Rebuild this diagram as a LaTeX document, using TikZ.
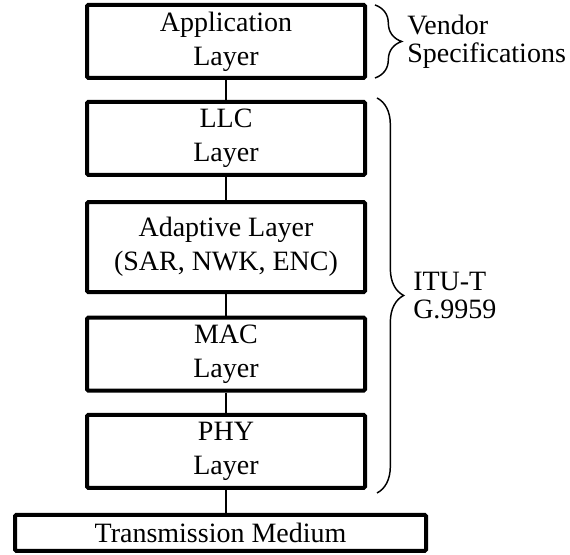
\documentclass[tikz,border=0pt]{standalone}
\usepackage{fontspec}
\setmainfont{Liberation Serif}
\usetikzlibrary{shapes,calc,decorations.pathreplacing}

\begin{document}
\begin{tikzpicture}[node distance = 72.75pt, auto]
	% % % % % % % % % % % % % % % % % % % % % % % % % % % % % %
	% Define styles
	\tikzstyle{block} = [rectangle, draw, line width=3pt, minimum width=208.5pt, minimum height=54.75pt,
						 align=center, rounded corners=1pt, font=\fontsize{21pt}{25.5pt}\selectfont]
	\tikzstyle{line} = [draw, line width=1.5pt]
	\tikzstyle{curly} = [draw, line width=1.1pt, decorate, decoration={brace, amplitude=20pt}]
	\tikzstyle{note} = [inner sep=0pt, anchor=west, align=left, font=\fontsize{21pt}{21pt}\selectfont]

	\useasboundingbox (0,0) rectangle (427.5pt,-415.5pt);

	% % % % % % % % % % % % % % % % % % % % % % % % % % % % % %
	% Place nodes
	% stack of layers
	\node [block] (app) at (169.5pt,-31.1pt) {Application\\Layer};
	\node [block, below of=app] (llc) {LLC\\Layer};
	\node [block, below of=llc, node distance = 81.4pt, minimum height=67.5pt] (adp) {Adaptive Layer\\(SAR, NWK, ENC)};
	\node [block, below of=adp, node distance = 80.25pt] (mac) {MAC\\Layer};
	\node [block, below of=mac, node distance = 73.1pt] (phy) {PHY\\Layer};
	% medium
	\node [block, below of=phy, node distance = 61.1pt, xshift=-4.1pt, minimum width=308.25pt, minimum height=27pt] (med) {Transmission Medium};

	% Draw edges
	\path [line] (app) -- (llc);
	\path [line] (llc) -- (adp);
	\path [line] (adp) -- (mac);
	\path [line] (mac) -- (phy);
	\path [line] (phy.south) -- (med.north -| phy.south);

	% % braces
	\coordinate (vtop) at ([xshift=6pt, yshift=-1.5pt]app.north east);
	\coordinate (vbot) at ([xshift=6pt, yshift=1.5pt]app.south east);
	\path [curly] (vtop) -- (vbot);
	\node [note] (vendor) at ($(vtop)!.5!(vbot)+(24pt,0)$) {Vendor\\Specifications};

	\coordinate (itop) at ([xshift=7.5pt, yshift=1.5pt]llc.north east);
	\coordinate (ibot) at ([xshift=7.5pt, yshift=-2.25pt]phy.south east);
	\path [curly] (itop) -- (ibot);
	\node [note] (itu) at ($(itop)!.5!(ibot)+(27pt,0)$) {ITU-T\\G.9959};
\end{tikzpicture}
\end{document}
